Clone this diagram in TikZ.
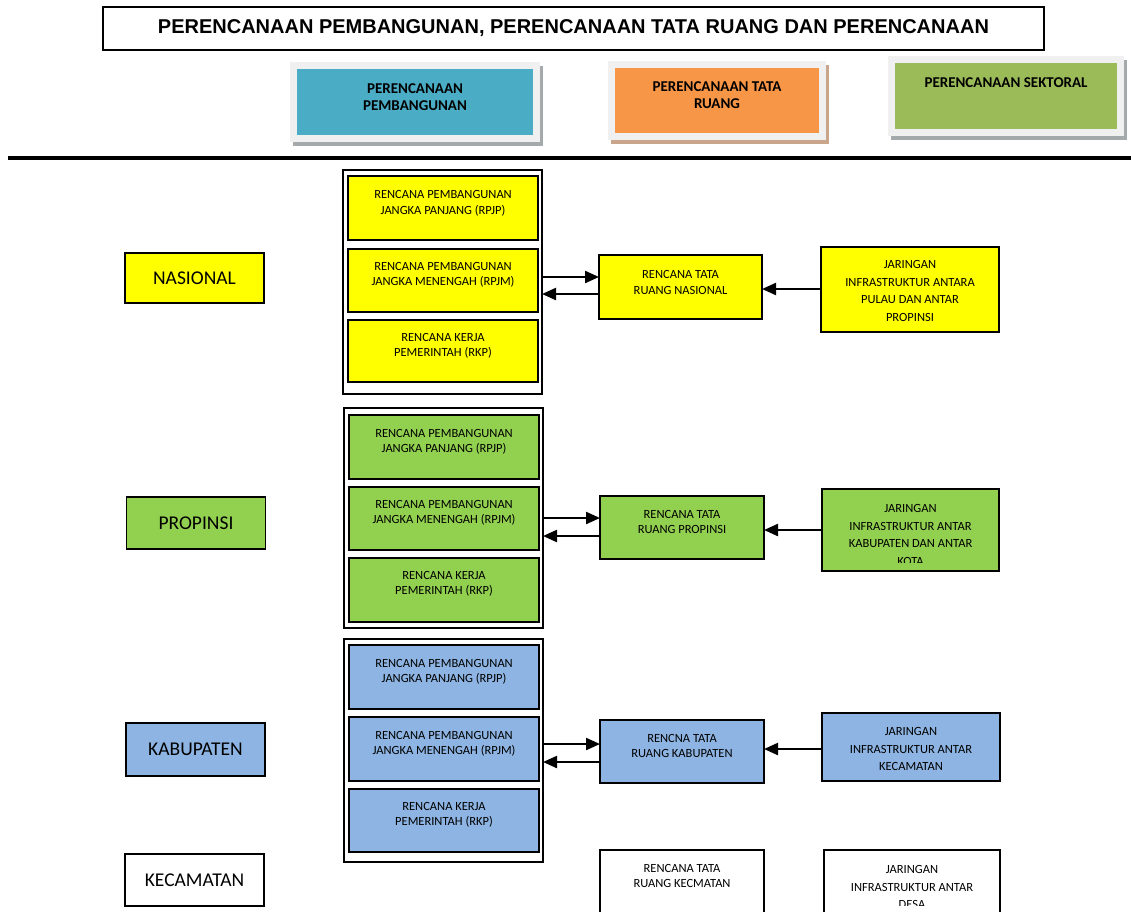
\documentclass[tikz,border=0pt]{standalone}
\usepackage{fontspec}
\setmainfont{Carlito}
\newfontfamily\arialfont{Liberation Sans}
\usepackage{tikz}
\usetikzlibrary{arrows.meta, positioning}
\definecolor{kuning}{HTML}{FFFF00}
\definecolor{hijau}{HTML}{92D050}
\definecolor{biru}{HTML}{8DB4E2}
\definecolor{hdrbiru}{HTML}{4BACC6}
\definecolor{hdroranye}{HTML}{F79646}
\definecolor{hdrhijau}{HTML}{9BBB59}
\definecolor{tepi}{HTML}{F0F0F0}
\definecolor{bayangabu}{HTML}{A4A9AB}
\definecolor{bayangcoklat}{HTML}{C9A58C}

\begin{document}
\begin{tikzpicture}[x=1pt, y=-1pt,
    kotak/.style={draw=black, line width=1.8pt, inner sep=0pt, outer sep=0pt},
    bingkai/.style={draw=black, line width=1.3pt, inner sep=0pt, outer sep=0pt},
    teks/.style={inner sep=0pt, align=center, font=\fontsize{12.5}{15.5}\selectfont},
    jarteks/.style={inner sep=0pt, align=center, font=\fontsize{12.5}{17.5}\selectfont},
    tingkat/.style={draw=black, line width=1.3pt, inner sep=0pt, outer sep=0pt, minimum width=139pt, font=\fontsize{19.5}{22}\selectfont},
    kepala/.style={draw=tepi, line width=7pt, inner sep=0pt, outer sep=0pt, preaction={draw=#1, line width=7pt, transform canvas={xshift=3pt, yshift=-4pt}}},
    kepalateks/.style={inner sep=0pt, align=center, font=\bfseries\fontsize{15}{17}\selectfont},
    panah/.style={line width=2.2pt, -{Triangle[length=14pt, width=12pt]}}
  ]
      \useasboundingbox (0,0) rectangle (1131,911);

      \node[draw=black, line width=1.3pt, inner sep=0pt, minimum width=941pt, minimum height=43pt, font=\arialfont\bfseries\fontsize{20}{24}\selectfont] (judul) at (573.5,28.5) {PERENCANAAN PEMBANGUNAN, PERENCANAAN TATA RUANG DAN PERENCANAAN};

      \node[kepala=bayangabu, fill=hdrbiru, minimum width=243pt, minimum height=73pt] (hdr-pemb) at (415,102) {};
      \node[kepalateks] (hdr-pemb-t) at (415,97.5) {PERENCANAAN\\PEMBANGUNAN};
      \node[kepala=bayangcoklat, fill=hdroranye, minimum width=211pt, minimum height=72pt] (hdr-tr) at (717,100.5) {};
      \node[kepalateks] (hdr-tr-t) at (717,95.5) {PERENCANAAN TATA\\RUANG};
      \node[kepala=bayangabu, fill=hdrhijau, minimum width=229pt, minimum height=73pt] (hdr-sek) at (1006,96) {};
      \node[kepalateks] (hdr-sek-t) at (1006,83) {PERENCANAAN SEKTORAL};

      \draw[line width=4pt] (8,158) -- (1131,158);

      % nasional
      \node[tingkat, fill=kuning, minimum height=50pt] (nas) at (194.5,278) {NASIONAL};
      \node[bingkai, minimum width=199pt, minimum height=224pt] (nas-grp) at (442.5,282) {};
      \node[kotak, fill=kuning, minimum width=190pt, minimum height=64pt] (nas-rpjp) at (443,208) {};
      \node[teks] (nas-rpjp-t) at (443,203.5) {RENCANA PEMBANGUNAN\\JANGKA PANJANG (RPJP)};
      \node[kotak, fill=kuning, minimum width=190pt, minimum height=63pt] (nas-rpjm) at (443,280.5) {};
      \node[teks] (nas-rpjm-t) at (443,275) {RENCANA PEMBANGUNAN\\JANGKA MENENGAH (RPJM)};
      \node[kotak, fill=kuning, minimum width=190pt, minimum height=62pt] (nas-rkp) at (443,351) {};
      \node[teks] (nas-rkp-t) at (443,346) {RENCANA KERJA\\PEMERINTAH (RKP)};
      \node[kotak, fill=kuning, minimum width=163pt, minimum height=64pt] (nas-rtr) at (680.5,287) {};
      \node[teks] (nas-rtr-t) at (680.5,282.5) {RENCANA TATA\\RUANG NASIONAL};
      \node[kotak, fill=kuning, minimum width=178pt, minimum height=85pt] (nas-jar) at (910,289.5) {};
      \node[jarteks] (nas-jar-t) at (910,291) {JARINGAN\\INFRASTRUKTUR ANTARA\\PULAU DAN ANTAR\\PROPINSI};
      \draw[panah] (nas-grp.east |- 0,277) -- (nas-rtr.west |- 0,277);
      \draw[panah] (nas-rtr.west |- 0,294) -- (nas-grp.east |- 0,294);
      \draw[panah] (nas-jar.west |- 0,289) -- (nas-rtr.east |- 0,289);

      % propinsi
      \node[tingkat, fill=hijau, minimum height=52pt] (pro) at (196,523) {PROPINSI};
      \node[bingkai, minimum width=199pt, minimum height=220pt] (pro-grp) at (443.5,518) {};
      \node[kotak, fill=hijau, minimum width=190pt, minimum height=64pt] (pro-rpjp) at (444,447) {};
      \node[teks] (pro-rpjp-t) at (444,442) {RENCANA PEMBANGUNAN\\JANGKA PANJANG (RPJP)};
      \node[kotak, fill=hijau, minimum width=190pt, minimum height=63pt] (pro-rpjm) at (444,518.5) {};
      \node[teks] (pro-rpjm-t) at (444,513) {RENCANA PEMBANGUNAN\\JANGKA MENENGAH (RPJM)};
      \node[kotak, fill=hijau, minimum width=190pt, minimum height=64pt] (pro-rkp) at (444,590) {};
      \node[teks] (pro-rkp-t) at (444,584) {RENCANA KERJA\\PEMERINTAH (RKP)};
      \node[kotak, fill=hijau, minimum width=164pt, minimum height=63pt] (pro-rtr) at (682,527.5) {};
      \node[teks] (pro-rtr-t) at (682,522) {RENCANA TATA\\RUANG PROPINSI};
      \node[kotak, fill=hijau, minimum width=177pt, minimum height=82pt] (pro-jar) at (910.5,530) {};
      \begin{scope}
        \clip (pro-jar.north west) rectangle (pro-jar.east |- 0,562);
        \node[jarteks] (pro-jar-t) at (910.5,535) {JARINGAN\\INFRASTRUKTUR ANTAR\\KABUPATEN DAN ANTAR\\KOTA};
      \end{scope}
      \draw[panah] (pro-grp.east |- 0,518) -- (pro-rtr.west |- 0,518);
      \draw[panah] (pro-rtr.west |- 0,536) -- (pro-grp.east |- 0,536);
      \draw[panah] (pro-jar.west |- 0,530) -- (pro-rtr.east |- 0,530);

      % kabupaten
      \node[tingkat, fill=biru, minimum height=53pt] (kab) at (195.5,749.5) {KABUPATEN};
      \node[bingkai, minimum width=199pt, minimum height=223pt] (kab-grp) at (443.5,750.5) {};
      \node[kotak, fill=biru, minimum width=190pt, minimum height=64pt] (kab-rpjp) at (444,677) {};
      \node[teks] (kab-rpjp-t) at (444,672) {RENCANA PEMBANGUNAN\\JANGKA PANJANG (RPJP)};
      \node[kotak, fill=biru, minimum width=190pt, minimum height=64pt] (kab-rpjm) at (444,749) {};
      \node[teks] (kab-rpjm-t) at (444,744) {RENCANA PEMBANGUNAN\\JANGKA MENENGAH (RPJM)};
      \node[kotak, fill=biru, minimum width=190pt, minimum height=63pt] (kab-rkp) at (444,820.5) {};
      \node[teks] (kab-rkp-t) at (444,815) {RENCANA KERJA\\PEMERINTAH (RKP)};
      \node[kotak, fill=biru, minimum width=164pt, minimum height=63pt] (kab-rtr) at (682,751.5) {};
      \node[teks] (kab-rtr-t) at (682,746) {RENCNA TATA\\RUANG KABUPATEN};
      \node[kotak, fill=biru, minimum width=178pt, minimum height=68pt] (kab-jar) at (911,747) {};
      \node[jarteks] (kab-jar-t) at (911,749) {JARINGAN\\INFRASTRUKTUR ANTAR\\KECAMATAN};
      \draw[panah] (kab-grp.east |- 0,744) -- (kab-rtr.west |- 0,744);
      \draw[panah] (kab-rtr.west |- 0,762) -- (kab-grp.east |- 0,762);
      \draw[panah] (kab-jar.west |- 0,749) -- (kab-rtr.east |- 0,749);

      % kecamatan
      \node[tingkat, fill=white, minimum height=52pt] (kec) at (194.5,880) {KECAMATAN};
      \node[kotak, fill=white, minimum width=164pt, minimum height=64pt] (kec-rtr) at (682,882) {};
      \node[teks] (kec-rtr-t) at (682,876) {RENCANA TATA\\RUANG KECMATAN};
      \node[kotak, fill=white, minimum width=176pt, minimum height=64pt] (kec-jar) at (912,882) {};
      \begin{scope}
        \clip (kec-jar.north west) rectangle (kec-jar.east |- 0,905);
        \node[jarteks] (kec-jar-t) at (912,887) {JARINGAN\\INFRASTRUKTUR ANTAR\\DESA};
      \end{scope}
    \end{tikzpicture}
\end{document}
